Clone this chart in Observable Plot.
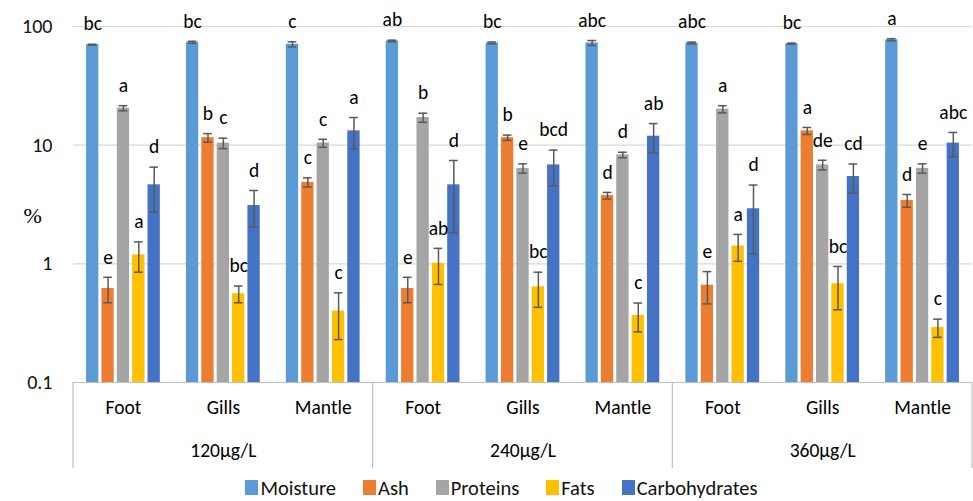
<!DOCTYPE html>
<html>
<head>
<meta charset="utf-8">
<script src="https://cdn.jsdelivr.net/npm/d3@7"></script>
<script src="https://cdn.jsdelivr.net/npm/@observablehq/plot@0.6"></script>
<style>
  html, body { margin: 0; padding: 0; background: #fff; }
  #legend { display: flex; justify-content: center; align-items: center; height: 29px;
    font-family: Carlito, Lato, sans-serif; font-size: 20.5px; color: #111; padding-left: 30px; box-sizing: border-box; width: 973px; }
  #legend .item { display: flex; align-items: center; margin: 2px 13.5px 0 13.5px; }
  #legend .sw { width: 13px; height: 15px; margin-right: 2px; display: inline-block; }
</style>
</head>
<body>
<div id="chart"></div>
<div id="legend"></div>
<script>
// ---- data ----
const concentrations = ["120µg/L", "240µg/L", "360µg/L"];
const tissues = ["Foot", "Gills", "Mantle"];
const nutrients = ["Moisture", "Ash", "Proteins", "Fats", "Carbohydrates"];
const colors = ["#5B9BD5", "#ED7D31", "#A5A5A5", "#FFC000", "#4472C4"];
const yTicks = [0.1, 1, 10, 100];

// order: 120 Foot, 120 Gills, 120 Mantle, 240 Foot, 240 Gills, 240 Mantle, 360 Foot, 360 Gills, 360 Mantle
const moisture = [70.3, 73.6, 70.8, 75.5, 72.7, 72.7, 72.7, 71.7, 77.4];
const moistureSD = [0.6, 1.5, 3.5, 1.2, 1.3, 3.5, 1.2, 0.8, 1.6];
const moistureLetters = ["bc", "bc", "c", "ab", "bc", "abc", "abc", "bc", "a"];

const ash = [0.62, 11.56, 4.87, 0.62, 11.56, 3.76, 0.66, 13.2, 3.42];
const ashSD = [0.15, 0.95, 0.43, 0.15, 0.6, 0.24, 0.2, 0.9, 0.42];
const ashLetters = ["e", "b", "c", "e", "b", "d", "e", "a", "d"];

const proteins = [20.5, 10.4, 10.4, 17.1, 6.38, 8.27, 20.1, 6.82, 6.38];
const proteinsSD = [1.0, 1.05, 0.8, 1.5, 0.58, 0.45, 1.4, 0.64, 0.58];
const proteinsLetters = ["a", "c", "c", "b", "e", "d", "a", "de", "e"];

const fats = [1.19, 0.56, 0.40, 1.01, 0.64, 0.367, 1.41, 0.68, 0.291];
const fatsSD = [0.34, 0.09, 0.17, 0.34, 0.21, 0.1, 0.36, 0.27, 0.051];
const fatsLetters = ["a", "bc", "c", "ab", "bc", "c", "a", "bc", "c"];

const carbohydrates = [4.63, 3.1, 13.2, 4.63, 6.82, 11.9, 2.91, 5.44, 10.4];
const carbohydratesSD = [1.9, 1.05, 3.9, 2.8, 2.27, 3.3, 1.7, 1.5, 2.4];
const carbohydratesLetters = ["d", "d", "a", "d", "bcd", "ab", "d", "cd", "abc"];

// ---- build table ----
const facets = concentrations.flatMap(c => tissues.map(t => ({ key: c + "|" + t, conc: c, tissue: t })));
const series = [
  [moisture, moistureSD, moistureLetters],
  [ash, ashSD, ashLetters],
  [proteins, proteinsSD, proteinsLetters],
  [fats, fatsSD, fatsLetters],
  [carbohydrates, carbohydratesSD, carbohydratesLetters]
];
const rows = [];
facets.forEach((f, i) => {
  nutrients.forEach((n, j) => {
    const [vals, sds, lets] = series[j];
    rows.push({ key: f.key, nutrient: n, value: vals[i], lo: vals[i] - sds[i], hi: vals[i] + sds[i], letter: lets[i] });
  });
});
const yMin = yTicks[0];

const font = "Carlito, Lato, sans-serif";
const chart = Plot.plot({
  width: 973,
  height: 472,
  marginLeft: 73,
  marginRight: 1,
  marginTop: 26,
  marginBottom: 90,
  style: { fontFamily: font, fontSize: "19px", color: "#111", background: "#fff" },
  fx: { domain: facets.map(f => f.key), padding: 0, round: false, axis: null },
  x: { domain: nutrients, paddingInner: 0.2, paddingOuter: 0.85, round: false, axis: null },
  y: { type: "log", domain: [yTicks[0], yTicks[yTicks.length - 1]], axis: null },
  color: { domain: nutrients, range: colors },
  marks: [
    Plot.ruleY(facets, { fx: "key", y: () => 1, stroke: "#d9d9d9", strokeWidth: 1.2 }),
    Plot.ruleY(facets, { fx: "key", y: () => 10, stroke: "#d9d9d9", strokeWidth: 1.2 }),
    Plot.ruleY(facets, { fx: "key", y: () => 100, stroke: "#d9d9d9", strokeWidth: 1.2 }),
    Plot.barY(rows, { fx: "key", x: "nutrient", y1: () => yMin, y2: "value", fill: "nutrient" }),
    Plot.ruleY(facets, { fx: "key", y: () => yMin, stroke: "#bfbfbf", strokeWidth: 1.2 }),
    Plot.ruleX(rows, { fx: "key", x: "nutrient", y1: "lo", y2: "hi", stroke: "#595959", strokeWidth: 1.5 }),
    Plot.tickY(rows, { fx: "key", x: "nutrient", y: "lo", stroke: "#595959", strokeWidth: 1.5, insetLeft: 1.8, insetRight: 1.8 }),
    Plot.tickY(rows, { fx: "key", x: "nutrient", y: "hi", stroke: "#595959", strokeWidth: 1.5, insetLeft: 1.8, insetRight: 1.8 }),
    Plot.text(rows, { fx: "key", x: "nutrient", y: "hi", text: "letter", dy: -20, fontSize: 19.5, fill: "#000" }),
    Plot.axisY(yTicks, { fontSize: 20, tickSize: 0, tickPadding: 21, tickFormat: d => String(d), label: null, fill: "#111" }),
    Plot.text(facets, { fx: "key", text: "tissue", frameAnchor: "bottom", dy: 31, fontSize: 19.5, fill: "#000" }),
    Plot.text(facets.filter(f => f.tissue === tissues[1]), { fx: "key", text: "conc", frameAnchor: "bottom", dy: 74, fontSize: 19.5, fill: "#000" }),
    Plot.text(facets.slice(0, 1), { fx: "key", text: () => "%", frameAnchor: "left", dx: -50, dy: 11, fontSize: 22, fontFamily: "Liberation Serif, serif", fill: "#000" })
  ]
});
document.getElementById("chart").appendChild(chart);

// multi-level axis separators
(function () {
  const fxS = chart.scale("fx");
  const yS = chart.scale("y");
  const bw = fxS.bandwidth;
  const y0 = yS.apply(yMin);
  const edges = concentrations.map(c => fxS.apply(c + "|" + tissues[0]));
  edges.push(fxS.apply(concentrations[concentrations.length - 1] + "|" + tissues[tissues.length - 1]) + bw);
  const g = d3.select(chart).append("g").attr("stroke", "#bfbfbf").attr("stroke-width", 1.2);
  edges.forEach(x => {
    g.append("line").attr("x1", x).attr("x2", x).attr("y1", y0).attr("y2", y0 + 86);
  });
})();

// legend
const legend = d3.select("#legend");
nutrients.forEach((n, i) => {
  const it = legend.append("div").attr("class", "item");
  it.append("span").attr("class", "sw").style("background", colors[i]);
  it.append("span").text(n);
});
</script>
</body>
</html>
